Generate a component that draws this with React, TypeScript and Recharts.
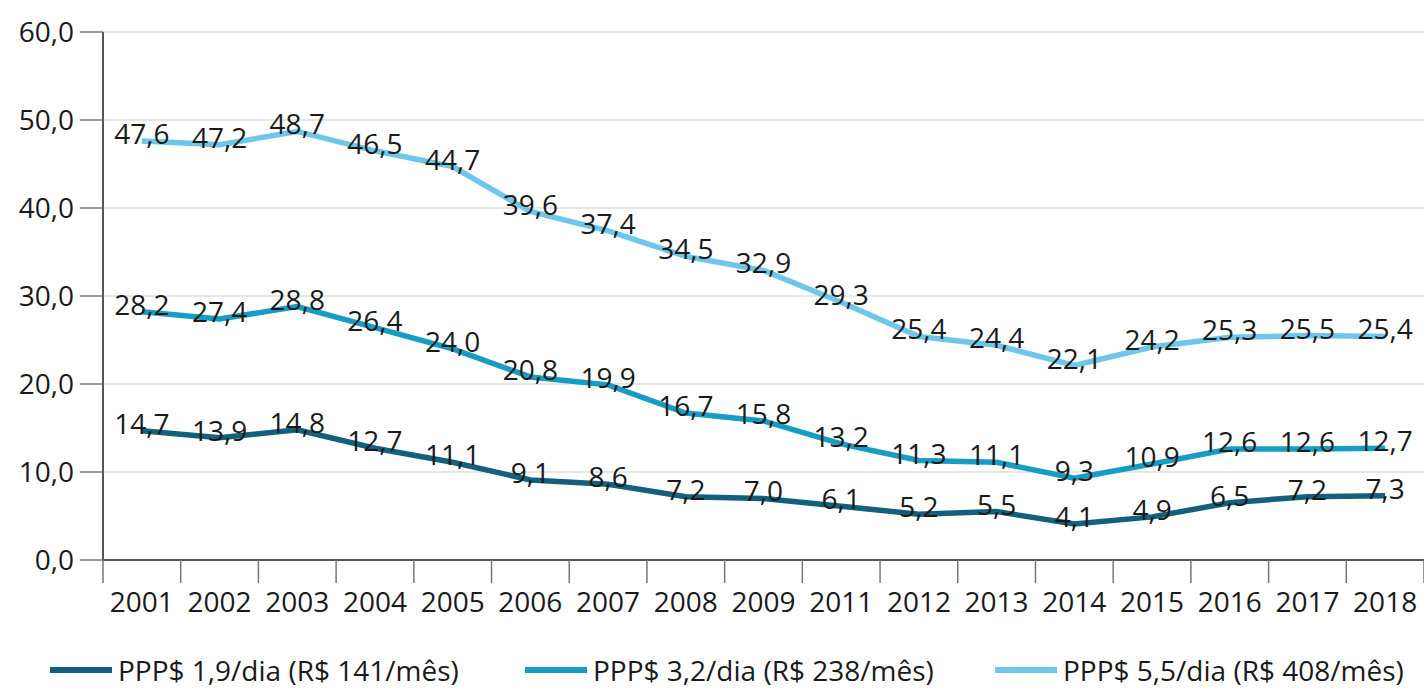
import React from "react";
import {
  LineChart,
  Line,
  XAxis,
  YAxis,
  CartesianGrid,
  Legend,
} from "recharts";

const years = [
  "2001", "2002", "2003", "2004", "2005", "2006", "2007", "2008", "2009",
  "2011", "2012", "2013", "2014", "2015", "2016", "2017", "2018",
];

const ppp19 = [14.7, 13.9, 14.8, 12.7, 11.1, 9.1, 8.6, 7.2, 7.0, 6.1, 5.2, 5.5, 4.1, 4.9, 6.5, 7.2, 7.3];
const ppp32 = [28.2, 27.4, 28.8, 26.4, 24.0, 20.8, 19.9, 16.7, 15.8, 13.2, 11.3, 11.1, 9.3, 10.9, 12.6, 12.6, 12.7];
const ppp55 = [47.6, 47.2, 48.7, 46.5, 44.7, 39.6, 37.4, 34.5, 32.9, 29.3, 25.4, 24.4, 22.1, 24.2, 25.3, 25.5, 25.4];

const yTicks = [0, 10, 20, 30, 40, 50, 60];

const series = [
  { key: "p19", name: "PPP$ 1,9/dia (R$ 141/mês)", color: "#135f7c", values: ppp19 },
  { key: "p32", name: "PPP$ 3,2/dia (R$ 238/mês)", color: "#179cc4", values: ppp32 },
  { key: "p55", name: "PPP$ 5,5/dia (R$ 408/mês)", color: "#6ec6ea", values: ppp55 },
];

const data = years.map((year, i) => ({
  year,
  p19: ppp19[i],
  p32: ppp32[i],
  p55: ppp55[i],
}));

const FONT = "'Open Sans', 'Noto Sans', sans-serif";
const FS = 28;
const fmt = (v: number) => v.toFixed(1).replace(".", ",");

const W = 1424;
const H = 688;
const LEFT = 103;
const RIGHT = 0;
const BAND = (W - LEFT - RIGHT) / years.length;

const XTick = (props: any) => {
  const { x, y, payload, index } = props;
  const left = x - BAND / 2;
  return (
    <g>
      <line x1={left} y1={y - 8} x2={left} y2={y + 15} stroke="#777" strokeWidth={1.5} />
      {index === years.length - 1 && (
        <line x1={x + BAND / 2} y1={y - 8} x2={x + BAND / 2} y2={y + 15} stroke="#777" strokeWidth={1.5} />
      )}
      <text
        x={x}
        y={y + 33}
        textAnchor="middle"
        dominantBaseline="central"
        fontSize={FS}
        fontFamily={FONT}
        fill="#1a1a1a"
      >
        {payload.value}
      </text>
    </g>
  );
};

const makeLabel = () => (props: any) => {
  const { x, y, value } = props;
  return (
    <text
      x={x}
      y={y - 8}
      textAnchor="middle"
      dominantBaseline="central"
      fontSize={FS}
      fontFamily={FONT}
      fill="#1a1a1a"
    >
      {fmt(value)}
    </text>
  );
};

const LegendContent = () => (
  <div style={{ position: "relative", height: 40, fontFamily: FONT, fontSize: FS, color: "#1a1a1a" }}>
    {series.map((s, i) => (
      <div
        key={s.key}
        style={{ position: "absolute", left: [50, 525, 995][i], top: 3, display: "flex", alignItems: "center" }}
      >
        <svg width={62} height={12}>
          <line x1={0} y1={6} x2={62} y2={6} stroke={s.color} strokeWidth={6} />
          <circle cx={31} cy={6} r={3} fill={s.color} />
        </svg>
        <span style={{ marginLeft: 6 }}>{s.name}</span>
      </div>
    ))}
  </div>
);

export default function App() {
  return (
    <div style={{ width: W, height: H, background: "#fff" }}>
      <style>{"body{margin:0}"}</style>
      <LineChart
        width={W}
        height={H}
        data={data}
        margin={{ top: 32, right: RIGHT, bottom: 0, left: 0 }}
      >
        <CartesianGrid vertical={false} stroke="#dedede" strokeWidth={1.5} />
        <XAxis
          dataKey="year"
          scale="band"
          interval={0}
          tickLine={false}
          axisLine={{ stroke: "#555", strokeWidth: 2 }}
          tick={<XTick />}
          height={88}
        />
        <YAxis
          domain={[0, 60]}
          ticks={yTicks}
          width={LEFT}
          tickSize={23}
          tickMargin={6}
          tickLine={{ stroke: "#777", strokeWidth: 1.5 }}
          axisLine={{ stroke: "#555", strokeWidth: 2 }}
          tickFormatter={fmt}
          tick={{ fontSize: FS, fontFamily: FONT, fill: "#1a1a1a" }}
        />
        <Legend verticalAlign="bottom" content={<LegendContent />} />
        {series.map((s) => (
          <Line
            key={s.key}
            dataKey={s.key}
            name={s.name}
            stroke={s.color}
            strokeWidth={5.5}
            dot={false}
            activeDot={false}
            isAnimationActive={false}
            label={makeLabel()}
          />
        ))}
      </LineChart>
    </div>
  );
}
